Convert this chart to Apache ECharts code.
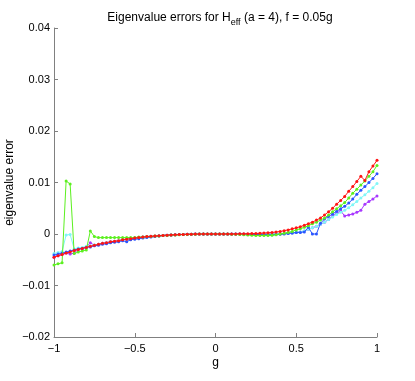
<!DOCTYPE html>
<html>
<head>
<meta charset="utf-8">
<script src="https://cdn.jsdelivr.net/npm/echarts@6/dist/echarts.min.js"></script>
<style>
  html, body { margin: 0; padding: 0; background: #fff; }
  #chart { width: 415px; height: 381px; }
</style>
</head>
<body>
<div id="chart"></div>
<script>
// g values (x)
var gVals = [-1,-0.975,-0.95,-0.925,-0.9,-0.875,-0.85,-0.825,-0.8,-0.775,-0.75,-0.725,-0.7,-0.675,-0.65,-0.625,-0.6,-0.575,-0.55,-0.525,
  -0.5,-0.475,-0.45,-0.425,-0.4,-0.375,-0.35,-0.325,-0.3,-0.275,-0.25,-0.225,-0.2,-0.175,-0.15,-0.125,-0.1,-0.075,-0.05,-0.025,
  0,0.025,0.05,0.075,0.1,0.125,0.15,0.175,0.2,0.225,0.25,0.275,0.3,0.325,0.35,0.375,0.4,0.425,0.45,0.475,
  0.5,0.525,0.55,0.575,0.6,0.625,0.65,0.675,0.7,0.725,0.75,0.775,0.8,0.825,0.85,0.875,0.9,0.925,0.95,0.975,1];

var redVals = [-0.0045,-0.0042,-0.0040,-0.0037,-0.0035,-0.0032,-0.0030,-0.0028,-0.0026,-0.0024,-0.0022,-0.0020,-0.0018,-0.0017,-0.0015,-0.0014,-0.0013,-0.0011,-0.0010,-0.0009,
  -0.0008,-0.0007,-0.0006,-0.0005,-0.00046,-0.0004,-0.00033,-0.00027,-0.00022,-0.00018,-0.00014,-0.00011,-0.00008,-0.00006,-0.00004,-0.00002,-0.00001,0,0,0,
  0,0,0,0,0.00001,0.00002,0.00003,0.00004,0.00006,0.00008,0.0001,0.00014,0.00018,0.00024,0.0003,0.00038,0.00048,0.00065,0.0008,0.0010,
  0.0012,0.0014,0.0017,0.0020,0.0023,0.0027,0.0031,0.0037,0.0043,0.0050,0.0058,0.0065,0.0073,0.0083,0.0092,0.0102,0.0112,0.0104,0.0121,0.0132,0.0143];

var greenVals = [-0.0060,-0.0058,-0.0056,0.0103,0.0097,-0.0038,-0.0035,-0.0033,-0.0031,0.0006,-0.0005,-0.0007,-0.0007,-0.0007,-0.0007,-0.0007,-0.0007,-0.0007,-0.0007,-0.0007,
  -0.0007,-0.0006,-0.0006,-0.0005,-0.0005,-0.0004,-0.0004,-0.0003,-0.0003,-0.0002,-0.0002,-0.00015,-0.0001,-0.00008,-0.00005,-0.00003,-0.00002,0,0,0,
  0,0,0,-0.00002,-0.00004,-0.00006,-0.0001,-0.00015,-0.0002,-0.00025,-0.0003,-0.0003,-0.0003,-0.0003,-0.00025,-0.00015,0,0.00015,0.0003,0.0005,
  0.0008,0.0010,0.0013,0.0016,0.0020,0.0023,0.0027,0.0031,0.0037,0.0043,0.0049,0.0055,0.0061,0.0070,0.0079,0.0087,0.0095,0.0103,0.0112,0.0121,0.0133];

var blueVals = [-0.0041,-0.0039,-0.0037,-0.0035,-0.0033,-0.0031,-0.0029,-0.0028,-0.0026,-0.0025,-0.0023,-0.0022,-0.0020,-0.0019,-0.0017,-0.0016,-0.0015,-0.0013,-0.0015,-0.0011,
  -0.0010,-0.0009,-0.0008,-0.0007,-0.0006,-0.0005,-0.0004,-0.0003,-0.00025,-0.0002,-0.00016,-0.00012,-0.00009,-0.00006,-0.00004,-0.00002,-0.00001,0,0,0,
  0,0,0,0,0,0,-0.00002,-0.00004,-0.00006,-0.00008,-0.0001,-0.00012,-0.00014,-0.00015,-0.00015,-0.0001,-0.00005,0,0.0001,0.0002,
  0.0003,0.0003,0.0004,0.0013,0,0,0.0021,0.0029,0.0034,0.0039,0.0044,0.0049,0.0054,0.0060,0.0068,0.0077,0.0085,0.0092,0.0100,0.0108,0.0117];

var cyanVals = [-0.0038,-0.0036,-0.0034,-0.0002,-0.0001,-0.0029,-0.0027,-0.0026,-0.0024,-0.0023,-0.0021,-0.0020,-0.0018,-0.0017,-0.0015,-0.0014,-0.0013,-0.0011,-0.0010,-0.0009,
  -0.0008,-0.0007,-0.0006,-0.0005,-0.00046,-0.0004,-0.00033,-0.00027,-0.00022,-0.00018,-0.00014,-0.00011,-0.00008,-0.00006,-0.00004,-0.00002,-0.00001,0,0,0,
  0,0,0,0,0,0,-0.00001,-0.00002,-0.00003,-0.00004,-0.00005,-0.00005,-0.00004,-0.00002,0,0.00003,0.00006,0.0001,0.00015,0.0002,
  0.0003,0.0004,0.0006,0.0009,0.0012,0.0015,0.0019,0.0023,0.0028,0.0033,0.0038,0.0042,0.0046,0.0051,0.0057,0.0063,0.0070,0.0076,0.0083,0.0090,0.0098];

var purpleVals = [-0.0045,-0.0042,-0.0040,-0.0037,-0.0039,-0.0037,-0.0030,-0.0028,-0.0026,-0.0017,-0.0022,-0.0020,-0.0018,-0.0017,-0.0015,-0.0014,-0.0013,-0.0011,-0.0010,-0.0009,
  -0.0008,-0.0007,-0.0006,-0.0005,-0.00046,-0.0004,-0.00033,-0.00027,-0.00022,-0.00018,-0.00014,-0.00011,-0.00008,-0.00006,-0.00004,-0.00002,-0.00001,0,0,0,
  0,0,0,0,0,0,-0.00001,-0.00002,-0.00003,-0.00004,-0.00005,-0.00005,-0.00004,-0.00002,0,0.00003,0.00006,0.0001,0.00015,0.0002,
  0.0003,0.0004,0.0006,0.0009,0.0012,0.0015,0.0019,0.0023,0.0028,0.0035,0.0040,0.0045,0.0035,0.0037,0.0039,0.0042,0.0046,0.0058,0.0063,0.0068,0.0074];

var seriesNames = ['purple', 'cyan', 'blue', 'green', 'red'];
var seriesColors = ['#a838ff', '#7ff7f7', '#2a55ff', '#5cf020', '#ff1414'];
var seriesVals = [purpleVals, cyanVals, blueVals, greenVals, redVals];

function pairs(vals) {
  return gVals.map(function (g, i) { return [g, vals[i]]; });
}
function minusSign(s) { return s.replace('-', '\u2212'); }

var font = 'Liberation Sans, Arial, Helvetica, sans-serif';
var axisGray = '#808080';

var chart = echarts.init(document.getElementById('chart'));
var option = {
  animation: false,
  backgroundColor: '#fff',
  textStyle: { fontFamily: font },
  title: {
    text: 'Eigenvalue errors for H{sub|eff} (a = 4), f = 0.05g',
    left: 215,
    top: 4,
    textAlign: 'center',
    textStyle: {
      fontFamily: font, fontSize: 12, fontWeight: 'normal', color: '#000',
      rich: {
        sub: { fontFamily: font, fontSize: 9, color: '#000', padding: [9, 0, 0, 0] }
      }
    }
  },
  grid: { left: 54, right: 38, top: 28, bottom: 44, containLabel: false, outerBoundsMode: 'none' },
  xAxis: {
    type: 'value',
    min: -1, max: 1, interval: 0.5,
    name: 'g',
    nameLocation: 'middle',
    nameGap: 20,
    nameMoveOverlap: false,
    nameTextStyle: { fontFamily: font, fontSize: 12, color: '#000' },
    axisLine: { show: true, onZero: false, lineStyle: { color: axisGray, width: 1 } },
    axisTick: { show: true, inside: true, length: 4, lineStyle: { color: axisGray } },
    axisLabel: {
      margin: 6, fontFamily: font, fontSize: 11, color: '#000',
      formatter: function (v) { return minusSign(String(Math.round(v * 10) / 10)); }
    },
    splitLine: { show: false }
  },
  yAxis: {
    type: 'value',
    min: -0.02, max: 0.04, interval: 0.01,
    name: 'eigenvalue error',
    nameLocation: 'middle',
    nameGap: 38,
    nameMoveOverlap: false,
    nameTextStyle: { fontFamily: font, fontSize: 12, color: '#000' },
    axisLine: { show: true, onZero: false, lineStyle: { color: axisGray, width: 1 } },
    axisTick: { show: true, inside: true, length: 4, lineStyle: { color: axisGray } },
    axisLabel: {
      margin: 4, fontFamily: font, fontSize: 11, color: '#000',
      formatter: function (v) {
        var r = Math.round(v * 100) / 100;
        return r === 0 ? '0' : minusSign(r.toFixed(2));
      }
    },
    splitLine: { show: false }
  },
  series: seriesVals.map(function (vals, i) {
    return {
      name: seriesNames[i],
      type: 'line',
      data: pairs(vals),
      symbol: 'circle',
      symbolSize: 3,
      showSymbol: true,
      lineStyle: { width: 1, color: seriesColors[i] },
      itemStyle: { color: seriesColors[i] },
      z: 2 + i
    };
  })
};
chart.setOption(option);
</script>
</body>
</html>
